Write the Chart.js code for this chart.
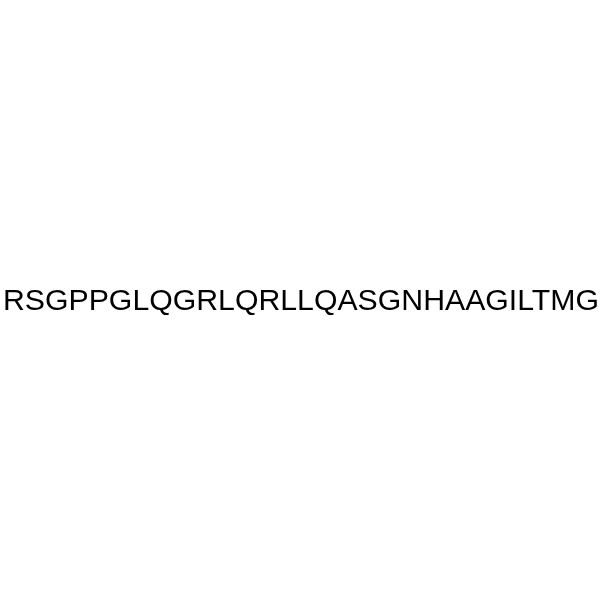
<!DOCTYPE html>
<html lang="en">
<head>
    <meta charset="UTF-8">
    <title>Peptide sequence</title>
    <script src="https://cdn.jsdelivr.net/npm/chart.js"></script>
    <style>
        html, body {
            margin: 0;
            padding: 0;
            background: #fff;
        }
        .wrap {
            width: 600px;
            height: 600px;
        }
    </style>
</head>
<body>
<div class="wrap">
    <canvas id="seq"></canvas>
</div>
<script>
// sequence text shown in the picture
const labels = ['RSGPPGLQGRLQRLLQASGNHAAGILTMG'];
const values = [0];

// draws the sequence label across the middle of the chart area
const sequenceText = {
    id: 'sequenceText',
    afterDraw(chart) {
        const { ctx } = chart;
        const text = chart.data.labels[0];
        ctx.save();
        ctx.fillStyle = '#000';
        ctx.font = '29px "Liberation Sans", Arial, sans-serif';
        ctx.textAlign = 'center';
        ctx.textBaseline = 'alphabetic';
        // stretch a little so the line runs edge to edge like the reference
        const w = ctx.measureText(text).width;
        const sx = 596 / w;
        ctx.translate(301, 310);
        ctx.scale(sx, 1);
        ctx.fillText(text, 0, 0);
        ctx.restore();
    }
};

new Chart(document.getElementById('seq'), {
    type: 'bar',
    data: {
        labels: labels,
        datasets: [{ data: values, backgroundColor: 'rgba(0,0,0,0)' }]
    },
    options: {
        responsive: true,
        maintainAspectRatio: false,
        animation: false,
        layout: { padding: 0 },
        scales: {
            x: { display: false },
            y: { display: false }
        },
        plugins: {
            legend: { display: false },
            tooltip: { enabled: false }
        }
    },
    plugins: [sequenceText]
});
</script>
</body>
</html>
